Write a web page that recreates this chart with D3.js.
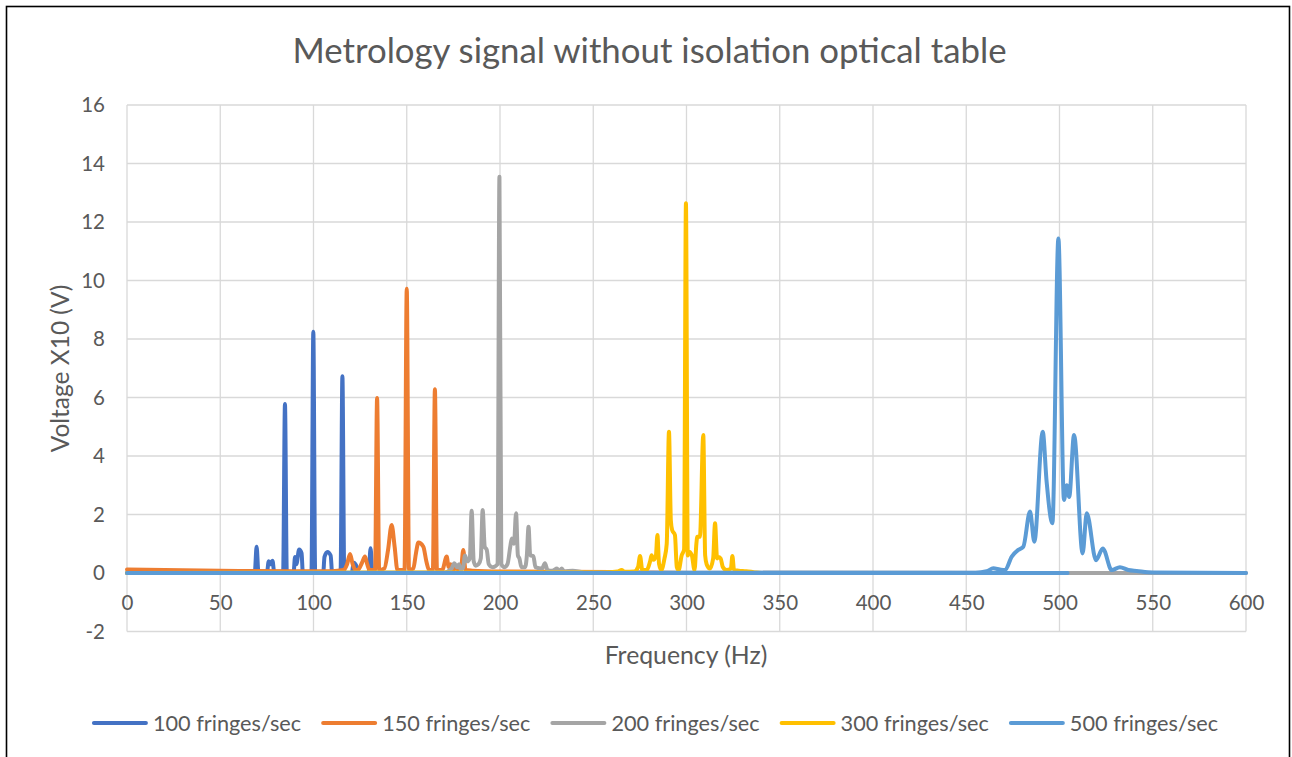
<!DOCTYPE html>
<html>
<head>
<meta charset="utf-8">
<script src="https://cdn.jsdelivr.net/npm/d3@7/dist/d3.min.js"></script>
<style>
  html, body { margin: 0; padding: 0; background: #ffffff; }
  svg { display: block; }
  text { font-family: "Lato", "Open Sans", sans-serif; fill: #595959; }
</style>
</head>
<body>
<svg id="chart" width="1292" height="757"></svg>
<script>
// Spectra: [frequency (Hz), voltage x10 (V)] pairs, one list per fringe rate.
const series100 = [
  [0, 0], [52.8, 0], [53.8, 0.07], [54.8, 0], [61, 0], [62, 0.05], [63, 0],
  [68.5, 0], [69.5, 0.9], [70.5, 0],
  [75, 0], [76, 0.4], [77, 0.3], [78, 0.42], [79, 0],
  [83.7, 0], [84.7, 5.78], [85.7, 0],
  [89.3, 0], [90.1, 0.55], [90.8, 0.3], [92.3, 0.8], [93.6, 0.68], [94.3, 0],
  [98.9, 0], [99.9, 8.25], [100.9, 0],
  [105.2, 0], [105.9, 0.55], [107.5, 0.72], [109.2, 0.6], [110, 0],
  [114.5, 0], [115.5, 6.73], [116.5, 0],
  [120.5, 0], [121.6, 0.35], [123.3, 0.2], [124.3, 0],
  [129.6, 0], [130.6, 0.85], [131.6, 0],
  [250, 0]
];

const series150 = [
  [0, 0.12], [30, 0.09], [60, 0.07], [90, 0.06], [110, 0.06], [116, 0.1],
  [118, 0.3], [119.6, 0.65], [121, 0.3], [122.5, 0.1], [124, 0.12], [126, 0.35],
  [127.6, 0.56], [128.8, 0.3], [130, 0.1], [133, 0.1], [134.1, 5.98], [135.2, 0.1],
  [138, 0.15], [140, 0.8], [141.9, 1.64], [143.5, 0.9], [145, 0.1], [148.8, 0.1],
  [150, 9.72], [151.2, 0.1], [153.5, 0.15], [155, 0.7], [156.2, 1.04], [158.9, 0.9],
  [160.5, 0.4], [162, 0.1], [164, 0.1], [165.1, 6.28], [166.2, 0.1], [169, 0.1],
  [171.4, 0.56], [172.5, 0.2], [173.5, 0.3], [174.5, 0.1], [176, 0.15], [179, 0.1],
  [180.3, 0.79], [181.5, 0.1], [185, 0.08], [200, 0.05], [260, 0.03], [300, 0]
];

const series200 = [
  [0, 0], [170, 0.02], [174, 0.15], [175.5, 0.33], [177, 0.2], [178, 0.3], [179, 0.1],
  [180.3, 0.2], [181.2, 0.6], [182.5, 0.4], [183.8, 0.5], [184.8, 2.13], [185.9, 0.4],
  [187, 0.25], [188.5, 0.3], [189.7, 0.5], [190.7, 2.15], [191.8, 0.9], [192.9, 0.79],
  [194, 0.3], [196, 0.2], [198.7, 0.3], [199.7, 13.55], [200.7, 0.3], [202.5, 0.2],
  [204, 0.3], [205.5, 0.9], [206.3, 1.18], [207.5, 1.0], [208.6, 2.04], [209.6, 0.6],
  [210.4, 0.5], [211.5, 0.2], [213.5, 0.2], [214.4, 0.6], [215.3, 1.58], [216.2, 0.6],
  [217.9, 0.58], [219, 0.2], [222.5, 0.15], [224.1, 0.33], [225.5, 0.1], [228, 0.08],
  [230.6, 0.15], [231.8, 0.05], [233, 0.15], [234.5, 0.05], [239, 0.08], [245, 0.02],
  [600, 0]
];

const series300 = [
  [0, 0], [255, 0.02], [263, 0.05], [265.2, 0.1], [267, 0.04], [272, 0.05], [274, 0.2],
  [275.1, 0.58], [276.3, 0.1], [278.5, 0.1], [280.5, 0.4], [281.3, 0.61], [282.3, 0.45],
  [283.6, 0.6], [284.4, 1.3], [285.3, 0.3], [286.5, 0.1], [288.2, 0.5], [289.4, 1.0],
  [290.6, 4.83], [291.6, 1.8], [292.3, 1.47], [293.8, 1.3], [294.8, 0.2], [295.8, 0.1],
  [297.4, 0.6], [298.7, 0.8], [299.7, 12.64], [300.7, 0.6], [301.3, 0.73], [302.8, 0.62],
  [304.3, 0.1], [305.3, 1.0], [305.8, 1.24], [307.2, 1.24], [309, 4.72], [310, 0.6],
  [310.8, 0.3], [312.5, 0.15], [314.3, 0.5], [315.3, 1.7], [316.4, 0.5], [317.1, 0.55],
  [318.3, 0.5], [319.5, 0.2], [321.5, 0.1], [323.8, 0.15], [324.6, 0.58], [325.5, 0.1],
  [328, 0.08], [332, 0.06], [336, 0.03], [340, 0], [400, 0]
];

// The 500 fringes/sec trace: a flat run up to 504.3 Hz, then the full spectrum.
const series500 = [
  [0, 0], [504.3, 0], null,
  [0, 0], [455, 0.01], [461, 0.06], [464.5, 0.16], [468, 0.12], [470.8, 0.1],
  [474.4, 0.56], [477.9, 0.79], [480.6, 0.9], [484.2, 2.1], [486.5, 1.07], [491, 4.83],
  [493.1, 3.12], [496.2, 1.7], [499.4, 11.44], [502.4, 2.5], [503.9, 3.0], [505.2, 2.6],
  [507.8, 4.72], [512.4, 0.67], [514.6, 2.04], [519.6, 0.44], [523.2, 0.84], [528, 0.1],
  [532.4, 0.2], [536.9, 0.1], [541.4, 0.07], [550, 0.02], [600, 0]
];

const seriesNames = ["100 fringes/sec", "150 fringes/sec", "200 fringes/sec",
                     "300 fringes/sec", "500 fringes/sec"];
const seriesColors = ["#4472C4", "#ED7D31", "#A5A5A5", "#FFC000", "#5B9BD5"];
const xTicks = [0, 50, 100, 150, 200, 250, 300, 350, 400, 450, 500, 550, 600];
const yTicks = [-2, 0, 2, 4, 6, 8, 10, 12, 14, 16];

const chartTitle = "Metrology signal without isolation optical table";
const xTitle = "Frequency (Hz)";
const yTitle = "Voltage X10 (V)";

const allSeries = [series100, series150, series200, series300, series500];

const svg = d3.select("#chart");

// chart area frame
svg.append("rect")
  .attr("x", 6.5).attr("y", 6.5)
  .attr("width", 1283).attr("height", 760)
  .attr("fill", "#ffffff").attr("stroke", "#000000").attr("stroke-width", 1.6);

const x = d3.scaleLinear().domain([0, 600]).range([127, 1246]);
const y = d3.scaleLinear().domain([-2, 16]).range([631.5, 105]);

// gridlines
const grid = svg.append("g").attr("stroke", "#D9D9D9").attr("stroke-width", 1.3);
grid.selectAll("line.h").data(yTicks).join("line")
  .attr("class", "h")
  .attr("x1", x(0)).attr("x2", x(600))
  .attr("y1", d => y(d)).attr("y2", d => y(d));
grid.selectAll("line.v").data(xTicks).join("line")
  .attr("class", "v")
  .attr("x1", d => x(d)).attr("x2", d => x(d))
  .attr("y1", y(16)).attr("y2", y(-2));

// axes (labels only; the lines are the gridlines above)
const plain = d => String(d);
const yAxis = d3.axisLeft(y).tickValues(yTicks).tickFormat(plain).tickSize(0).tickPadding(22);
svg.append("g").attr("transform", `translate(${x(0)},0)`).call(yAxis)
  .call(g => g.select(".domain").remove())
  .call(g => g.selectAll("text").attr("font-size", 20.5).attr("fill", "#595959")
                                .style("font-family", "Lato"));

const xAxis = d3.axisBottom(x).tickValues(xTicks).tickFormat(plain).tickSize(0).tickPadding(22);
svg.append("g").attr("transform", `translate(0,${y(0)})`).call(xAxis)
  .call(g => g.select(".domain").remove())
  .call(g => g.selectAll("text").attr("font-size", 20.5).attr("fill", "#595959")
                                .style("font-family", "Lato"));

// series lines
const line = d3.line()
  .defined(d => d != null)
  .x(d => x(d[0]))
  .y(d => y(d[1]))
  .curve(d3.curveMonotoneX);

svg.append("g").selectAll("path").data(allSeries).join("path")
  .attr("d", line)
  .attr("fill", "none")
  .attr("stroke", (d, i) => seriesColors[i])
  .attr("stroke-width", 4)
  .attr("stroke-linejoin", "round")
  .attr("stroke-linecap", "round");

// titles
svg.append("text")
  .attr("x", 649.5).attr("y", 63)
  .attr("text-anchor", "middle")
  .attr("font-size", 34.8)
  .text(chartTitle);

svg.append("text")
  .attr("x", 686).attr("y", 664)
  .attr("text-anchor", "middle")
  .attr("font-size", 24.8)
  .text(xTitle);

svg.append("text")
  .attr("transform", "translate(69,368.5) rotate(-90)")
  .attr("text-anchor", "middle")
  .attr("font-size", 24.5)
  .text(yTitle);

// legend
const legend = svg.append("g");
const items = legend.selectAll("g").data(seriesNames).join("g");
items.append("line")
  .attr("x1", 0).attr("x2", 52)
  .attr("y1", 0).attr("y2", 0)
  .attr("stroke", (d, i) => seriesColors[i])
  .attr("stroke-width", 4)
  .attr("stroke-linecap", "round");
items.append("text")
  .attr("x", 59).attr("y", 0)
  .attr("dy", "0.35em")
  .attr("font-size", 21.7)
  .text(d => d);

let cursor = 0;
const positions = [];
items.each(function () {
  const tw = d3.select(this).select("text").node().getComputedTextLength();
  positions.push(cursor);
  cursor += 59 + tw + 22;
});
const totalW = cursor - 22;
const startX = 656 - totalW / 2;
items.attr("transform", (d, i) => `translate(${startX + positions[i]},723)`);
</script>
</body>
</html>
